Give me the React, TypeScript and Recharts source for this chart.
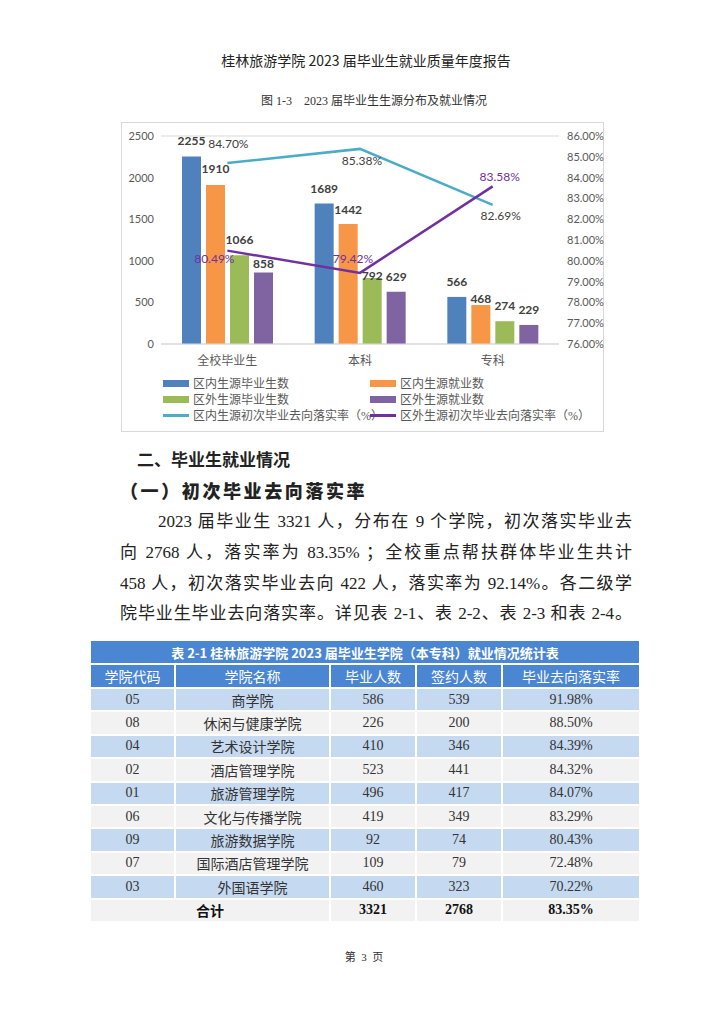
import { ComposedChart, Bar, Line, XAxis, YAxis, CartesianGrid, LabelList } from 'recharts';

// chart data
const categories = ['全校毕业生', '本科', '专科'];
const inGrad = [2255, 1689, 566];
const inEmp = [1910, 1442, 468];
const outGrad = [1066, 792, 274];
const outEmp = [858, 629, 229];
const inRate = [84.7, 85.38, 82.69];
const outRate = [80.49, 79.42, 83.58];
const leftTicks = [0, 500, 1000, 1500, 2000, 2500];
const rightTicks = [76, 77, 78, 79, 80, 81, 82, 83, 84, 85, 86];
const seriesNames = [
  '区内生源毕业生数',
  '区内生源就业数',
  '区外生源毕业生数',
  '区外生源就业数',
  '区内生源初次毕业去向落实率（%）',
  '区外生源初次毕业去向落实率（%）',
];

// table data
const tableTitle = '表 2-1 桂林旅游学院 2023 届毕业生学院（本专科）就业情况统计表';
const tableHeads = ['学院代码', '学院名称', '毕业人数', '签约人数', '毕业去向落实率'];
const collegeCodes = ['05', '08', '04', '02', '01', '06', '09', '07', '03'];
const collegeNames = ['商学院', '休闲与健康学院', '艺术设计学院', '酒店管理学院', '旅游管理学院', '文化与传播学院', '旅游数据学院', '国际酒店管理学院', '外国语学院'];
const gradCounts = [586, 226, 410, 523, 496, 419, 92, 109, 460];
const signCounts = [539, 200, 346, 441, 417, 349, 74, 79, 323];
const signRates = ['91.98%', '88.50%', '84.39%', '84.32%', '84.07%', '83.29%', '80.43%', '72.48%', '70.22%'];
const totalRow = ['合计', '3321', '2768', '83.35%'];

const paraLines = [
  '2023 届毕业生 3321 人，分布在 9 个学院，初次落实毕业去',
  '向 2768 人，落实率为 83.35% ；全校重点帮扶群体毕业生共计',
  '458 人，初次落实毕业去向 422 人，落实率为 92.14%。各二级学',
  '院毕业生毕业去向落实率。详见表 2-1、表 2-2、表 2-3 和表 2-4。',
];

const barColors = ['#4F81BD', '#F79646', '#9BBB59', '#8064A2'];
const lineColors = ['#4BACC6', '#7030A0'];
const barKeys = ['inGrad', 'inEmp', 'outGrad', 'outEmp'];

const data = categories.map((name, i) => ({
  name,
  inGrad: inGrad[i],
  inEmp: inEmp[i],
  outGrad: outGrad[i],
  outEmp: outEmp[i],
  inRate: inRate[i],
  outRate: outRate[i],
}));

// label placement for the rate lines (dx, dy from the point)
const inRateOffsets = [[1, -18], [2, 13], [8, 12]];
const outRateOffsets = [[-13, 9], [-7, -13], [7, -8]];
// bar labels that were nudged down in the original (gap above bar top)
const barLabelGaps = [
  [14, 14, 14],
  [15, 13, 5],
  [14, 1, 14],
  [8, 14, 14],
];

const numFont = 'Lato, "Noto Sans", sans-serif';
const cjkSerif = '"Liberation Serif", "Noto Sans CJK SC", serif';
const cjkSans = '"Noto Sans CJK SC", sans-serif';

function rateLabel(offsets: number[][], color: string) {
  return (props: any) => {
    const { x, y, value, index } = props;
    const [dx, dy] = offsets[index] || [0, 0];
    return (
      <text x={x + dx} y={y + dy} textAnchor="middle" dominantBaseline="middle"
        fill={color} fontSize={12} fontFamily={numFont}>
        {Number(value).toFixed(2)}%
      </text>
    );
  };
}

function barLabel(series: number) {
  return (props: any) => {
    const { x, y, width, value, index } = props;
    const gap = barLabelGaps[series][index] ?? 14;
    return (
      <text x={x + width / 2} y={y - gap} textAnchor="middle" dominantBaseline="middle"
        fill="#404040" fontSize={12} fontWeight="bold" fontFamily={numFont}>
        {value}
      </text>
    );
  };
}

function ChartLegend() {
  const rows = [[0, 1], [2, 3], [4, 5]];
  return (
    <div style={{ position: 'absolute', left: 41, top: 252, fontFamily: cjkSerif, fontSize: 12, color: '#595959' }}>
      {rows.map((r, ri) => (
        <div key={ri} style={{ position: 'absolute', top: ri * 16, left: 0, width: 420, height: 16 }}>
          {r.map((si, ci) => (
            <div key={si} style={{ position: 'absolute', left: ci * 207, top: 0, height: 16, display: 'flex', alignItems: 'center', whiteSpace: 'nowrap' }}>
              {si < 4 ? (
                <span style={{ display: 'inline-block', width: 26, height: 7, background: barColors[si], marginRight: 4 }} />
              ) : (
                <span style={{ display: 'inline-block', width: 26, height: 3, background: lineColors[si - 4], marginRight: 4 }} />
              )}
              {seriesNames[si]}
            </div>
          ))}
        </div>
      ))}
    </div>
  );
}

function SourceChart() {
  return (
    <div style={{ position: 'absolute', left: 121, top: 122, width: 483, height: 310, border: '1px solid #d9d9d9', boxSizing: 'border-box', background: '#fff' }}>
      <ComposedChart width={483} height={250} data={data} margin={{ top: 13, right: 0, left: 0, bottom: 4 }}
        barSize={19} barGap={5}>
        <CartesianGrid vertical={false} stroke="#d9d9d9" />
        <XAxis dataKey="name" height={25} tickLine={false} axisLine={{ stroke: '#d9d9d9' }}
          tick={{ fontSize: 12, fill: '#595959', fontFamily: cjkSerif }} tickMargin={6} />
        <YAxis yAxisId="left" width={39} domain={[0, 2500]} ticks={leftTicks} axisLine={false} tickLine={false}
          tickSize={0} tickMargin={7} tick={{ fontSize: 11, fill: '#595959', fontFamily: numFont }} />
        <YAxis yAxisId="right" orientation="right" width={46} domain={[76, 86]} ticks={rightTicks} axisLine={false}
          tickLine={false} tickSize={0} tickMargin={8} tick={{ fontSize: 11, fill: '#595959', fontFamily: numFont }}
          tickFormatter={(v: number) => v.toFixed(2) + '%'} />
        {barKeys.map((k, i) => (
          <Bar key={k} yAxisId="left" dataKey={k} name={seriesNames[i]} fill={barColors[i]} isAnimationActive={false}>
            <LabelList dataKey={k} content={barLabel(i)} />
          </Bar>
        ))}
        <Line yAxisId="right" type="linear" dataKey="inRate" name={seriesNames[4]} stroke={lineColors[0]} strokeWidth={2.5}
          dot={false} isAnimationActive={false}>
          <LabelList dataKey="inRate" content={rateLabel(inRateOffsets, '#404040')} />
        </Line>
        <Line yAxisId="right" type="linear" dataKey="outRate" name={seriesNames[5]} stroke={lineColors[1]} strokeWidth={2.5}
          dot={false} isAnimationActive={false}>
          <LabelList dataKey="outRate" content={rateLabel(outRateOffsets, '#7030A0')} />
        </Line>
      </ComposedChart>
      <ChartLegend />
    </div>
  );
}

function CollegeTable() {
  const blue = '#4A86D2';
  const lightBlue = '#C5D9F1';
  const grey = '#F2F2F2';
  const cell: React.CSSProperties = { border: '2px solid #fff', textAlign: 'center', padding: 0, whiteSpace: 'nowrap' };
  const widths = [85, 155, 86, 86, 138];
  return (
    <table style={{ position: 'absolute', left: 89, top: 639, width: 552, borderCollapse: 'collapse', tableLayout: 'fixed', fontFamily: cjkSerif, fontSize: 14, color: '#333' }}>
      <colgroup>
        {widths.map((w, i) => <col key={i} style={{ width: w }} />)}
      </colgroup>
      <tbody>
        <tr style={{ height: 24 }}>
          <td colSpan={5} style={{ ...cell, background: blue, color: '#fff', fontWeight: 'bold', fontFamily: cjkSans, fontSize: 13 }}>{tableTitle}</td>
        </tr>
        <tr style={{ height: 24 }}>
          {tableHeads.map((h) => (
            <td key={h} style={{ ...cell, background: blue, color: '#fff', fontFamily: cjkSans, fontSize: 14 }}>{h}</td>
          ))}
        </tr>
        {collegeCodes.map((code, i) => (
          <tr key={code} style={{ height: 23.4, background: i % 2 === 0 ? lightBlue : grey }}>
            <td style={cell}>{code}</td>
            <td style={cell}>{collegeNames[i]}</td>
            <td style={cell}>{gradCounts[i]}</td>
            <td style={cell}>{signCounts[i]}</td>
            <td style={cell}>{signRates[i]}</td>
          </tr>
        ))}
        <tr style={{ height: 23.4, background: grey, fontWeight: 'bold', color: '#111' }}>
          <td colSpan={2} style={{ ...cell, fontFamily: cjkSans }}>{totalRow[0]}</td>
          <td style={cell}>{totalRow[1]}</td>
          <td style={cell}>{totalRow[2]}</td>
          <td style={cell}>{totalRow[3]}</td>
        </tr>
      </tbody>
    </table>
  );
}

export default function App() {
  const abs = (top: number, h: number): React.CSSProperties => ({ position: 'absolute', top: top - h / 2, height: h, lineHeight: h + 'px' });
  return (
    <div style={{ position: 'absolute', left: 0, top: 0, width: 724, height: 1024, background: '#fff', overflow: 'hidden', color: '#222' }}>
      <div style={{ ...abs(60, 20), left: 0, width: 732, textAlign: 'center', fontFamily: cjkSans, fontSize: 14 }}>
        桂林旅游学院 2023 届毕业生就业质量年度报告
      </div>
      <div style={{ ...abs(101, 18), left: 0, width: 748, textAlign: 'center', fontFamily: cjkSerif, fontSize: 12, color: '#333', whiteSpace: 'pre' }}>
        {'图 1-3    2023 届毕业生生源分布及就业情况'}
      </div>
      <SourceChart />
      <div style={{ ...abs(459, 26), left: 137, fontFamily: cjkSans, fontSize: 17, fontWeight: 'bold' }}>二、毕业生就业情况</div>
      <div style={{ ...abs(490, 26), left: 120, fontFamily: cjkSans, fontSize: 18, fontWeight: 900, letterSpacing: 2.6 }}>（一）初次毕业去向落实率</div>
      {paraLines.map((line, i) => (
        <div key={i} style={{ ...abs(522 + i * 30.8, 30), left: i === 0 ? 158 : 120, width: i === 0 ? 474 : 512, whiteSpace: 'nowrap',
          textAlign: 'justify', textAlignLast: 'justify', fontFamily: cjkSerif, fontSize: 17, color: '#222' }}>
          {line}
        </div>
      ))}
      <CollegeTable />
      <div style={{ ...abs(957, 16), left: 0, width: 728, textAlign: 'center', fontFamily: cjkSerif, fontSize: 11, color: '#333', whiteSpace: 'pre' }}>
        {'第  3  页'}
      </div>
    </div>
  );
}
